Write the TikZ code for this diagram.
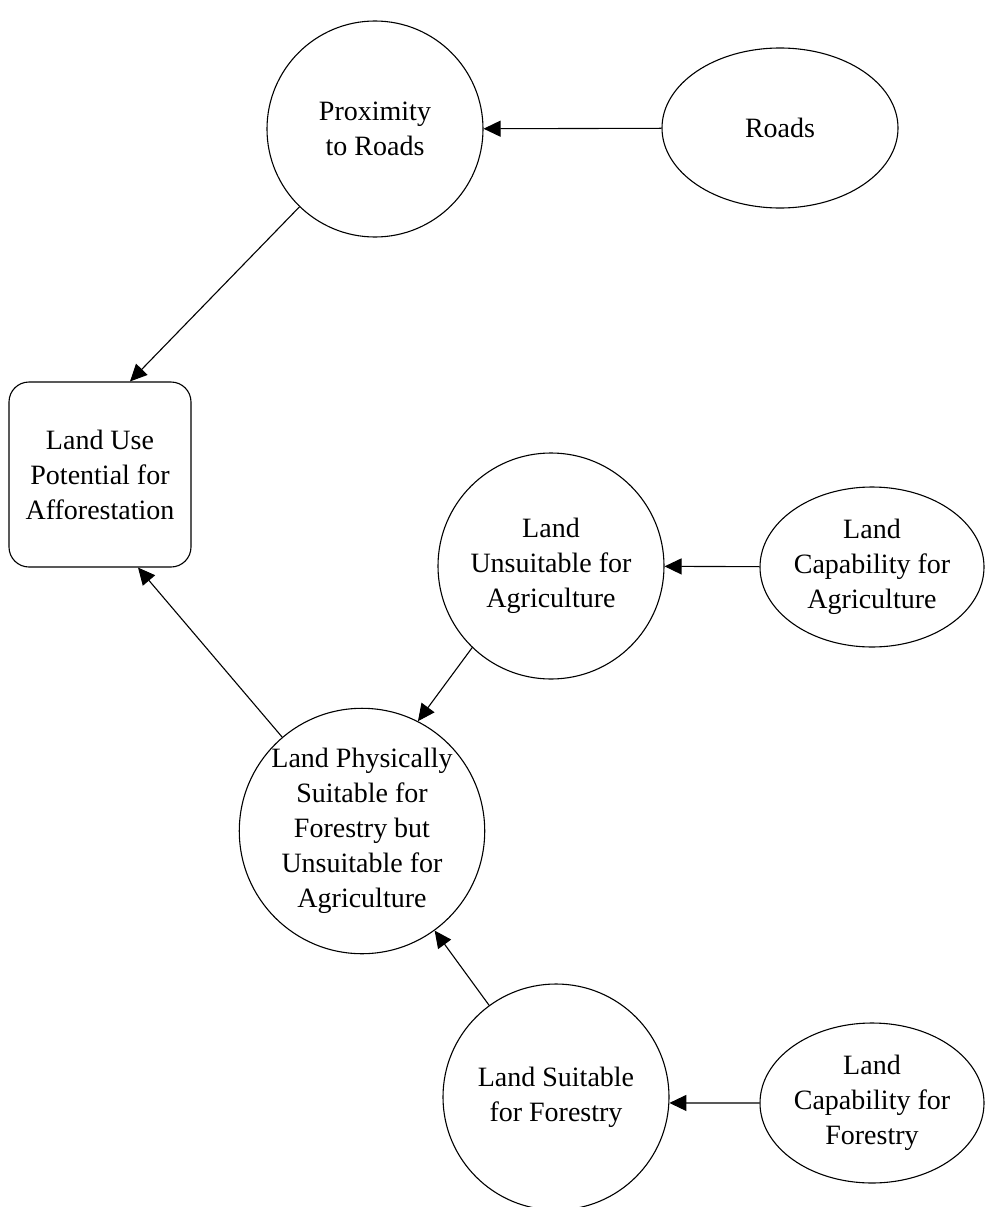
\documentclass[tikz,border=0pt]{standalone}
\usepackage{fontspec}
\setmainfont{Liberation Serif}
\usetikzlibrary{arrows.meta,shapes.geometric}

\begin{document}
\begin{tikzpicture}[x=1pt,y=-1pt,
    every node/.style={draw, line width=1.1pt, inner sep=0pt, align=center,
      font=\fontsize{28}{35}\selectfont},
    factor/.style={circle, minimum size=#1},
    source/.style={ellipse, minimum width=#1, minimum height=160pt},
    goal/.style={rectangle, rounded corners=20pt, minimum width=182pt, minimum height=185pt}]
      \useasboundingbox (0,0) rectangle (993,1207);
      \node[factor=216pt] (prox) at (375,129) {Proximity\\to Roads};
      \node[source=236pt] (roads) at (780,128) {Roads};
      \node[goal] (use) at (100,474.5) {Land Use\\Potential for\\Afforestation};
      \node[factor=226pt] (unsu) at (551,566) {Land\\Unsuitable for\\Agriculture};
      \node[source=224pt] (capa) at (872,567) {Land\\Capability for\\Agriculture};
      \node[factor=220pt] (phys) at (362,831) {Land Physically\\Suitable for\\Forestry but\\Unsuitable for\\Agriculture};
      \node[factor=226pt] (suit) at (556,1097) {Land Suitable\\for Forestry};
      \node[source=224pt] (capf) at (872,1103) {Land\\Capability for\\Forestry};
      \begin{scope}[-{Triangle[length=17pt,width=16pt]}, line width=1.1pt]
        \draw (roads) to (prox);
        \draw (prox) to ([xshift=30pt]use.north);
        \draw (phys) to ([xshift=38pt]use.south);
        \draw (unsu.226) to (phys.63);
        \draw (suit) to (phys);
        \draw (capa) to (unsu);
        \draw (capf) to (suit.-3);
      \end{scope}
    \end{tikzpicture}
\end{document}
